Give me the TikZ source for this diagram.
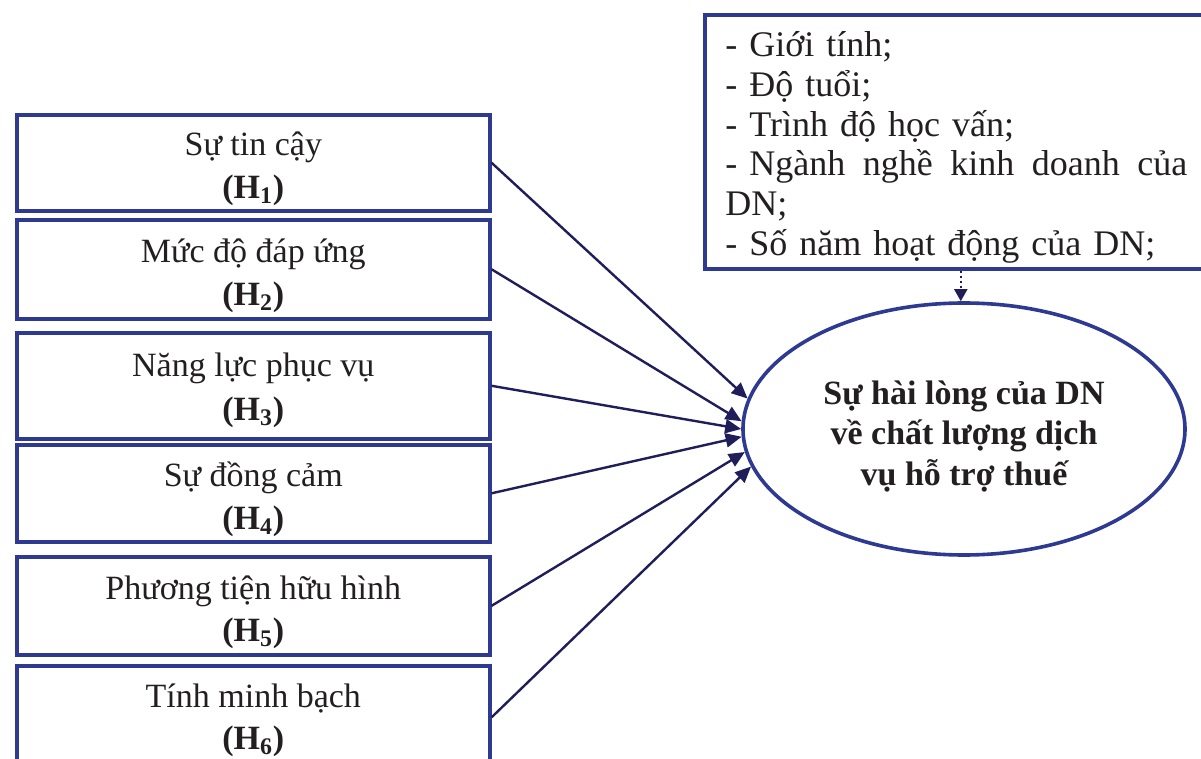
\documentclass[tikz,border=0pt]{standalone}
\usepackage{fontspec}
\setmainfont{Liberation Serif}
\usetikzlibrary{arrows.meta,shapes.geometric}
\definecolor{boxblue}{RGB}{46,57,145}
\definecolor{navy}{RGB}{32,30,90}
\definecolor{ink}{RGB}{35,31,32}
\newcommand{\topstrut}[1]{\rule{0pt}{#1}}
\begin{document}
\begin{tikzpicture}[x=0.5pt,y=-0.5pt,
  factor/.style={draw=boxblue, line width=1.8pt, rectangle, anchor=north west,
    minimum width=236.5pt, align=center, inner sep=0pt, text=ink,
    font=\fontsize{17}{21.3}\selectfont},
  conn/.style={draw=navy, line width=1.2pt, -{Triangle[length=8pt,width=7pt]}},
  dotconn/.style={draw=navy, line width=1pt, dash pattern=on 1.2pt off 1.3pt,
    -{Triangle[length=6pt,width=6.5pt]}},
  outcome/.style={ellipse, draw=boxblue, line width=1.8pt, minimum width=221pt,
    minimum height=126pt, inner sep=0pt, align=center, text=ink,
    font=\fontsize{17}{20.2}\selectfont\bfseries}
]
\useasboundingbox (0,0) rectangle (1201,759);
\clip (0,0) rectangle (1201,759);
\fill[white] (0,0) rectangle (1201,759);

\node[factor, minimum height=48pt]   (b1) at (15,113) {\topstrut{17.7pt}Sự tin cậy\\\textbf{(H\textsubscript{1})}};
\node[factor, minimum height=49.5pt] (b2) at (15,218) {\topstrut{18.2pt}Mức độ đáp ứng\\\textbf{(H\textsubscript{2})}};
\node[factor, minimum height=53pt]   (b3) at (15,331) {\topstrut{16.2pt}Năng lực phục vụ\\[0.7pt]\textbf{(H\textsubscript{3})}};
\node[factor, minimum height=48.5pt] (b4) at (15,443) {\topstrut{18.2pt}Sự đồng cảm\\\textbf{(H\textsubscript{4})}};
\node[factor, minimum height=49pt]   (b5) at (15,555) {\topstrut{18.2pt}Phương tiện hữu hình\\\textbf{(H\textsubscript{5})}};
\node[factor, minimum height=51.5pt] (b6) at (15,664) {\topstrut{14.7pt}Tính minh bạch\\\textbf{(H\textsubscript{6})}};

\node[outcome] (ell) at (964,429) {\topstrut{19pt}Sự hài lòng của DN\\về chất lượng dịch\\vụ hỗ trợ thuế};

\node[draw=boxblue, line width=1.8pt, rectangle, anchor=north west, inner sep=0pt,
  minimum width=256pt, minimum height=127pt] (ctrl) at (703,13) {};
\node[anchor=north west, inner sep=0pt, text width=231pt, align=left, text=ink,
  font=\fontsize{18}{19.9}\selectfont] (ctrltext) at (725,31)
  {- Giới tính;\\
   - Độ tuổi;\\
   - Trình độ học vấn;\\
   - Ngành\hfill nghề\hfill kinh\hfill doanh\hfill của\\
   DN;\\
   - Số năm hoạt động của DN;};

\draw[conn] (b1.east) -- (ell.172.4);
\draw[conn] (b2.east) -- (ell.178.2);
\draw[conn] (b3.east) -- (ell.180.3);
\draw[conn] (b4.east) -- (ell.182.3);
\draw[conn] (b5.east) -- (ell.186.3);
\draw[conn] (b6.east) -- (ell.190.2);
\draw[dotconn] (ctrl.south) -- (ctrl.south |- ell.north);
\end{tikzpicture}
\end{document}
